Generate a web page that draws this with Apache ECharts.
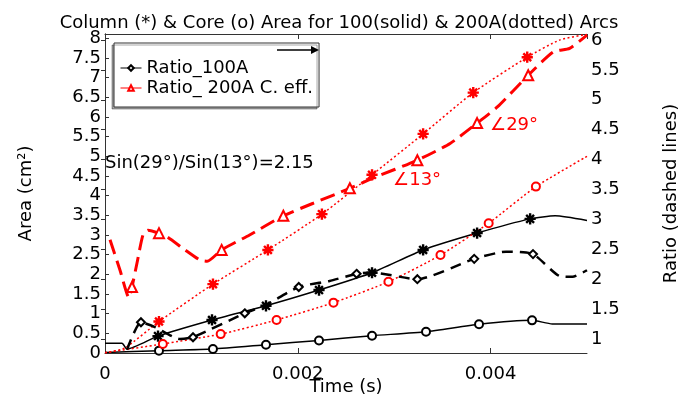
<!DOCTYPE html>
<html>
<head>
<meta charset="utf-8">
<script src="https://cdn.jsdelivr.net/npm/echarts@6/dist/echarts.min.js"></script>
<style>
  html, body { margin: 0; padding: 0; background: #fff; }
  #main { width: 678px; height: 396px; }
</style>
</head>
<body>
<div id="main"></div>
<script>
// time in seconds, areas in cm^2 (left axis), ratios on right axis
var col100T = [0, 0.000176, 0.000228, 0.00055, 0.00111, 0.00167, 0.00222, 0.00277, 0.0033, 0.00386, 0.00441, 0.00467, 0.005];
var col100V = [0.25, 0.25, 0.10, 0.43, 0.84, 1.20, 1.60, 2.04, 2.62, 3.05, 3.41, 3.49, 3.37];
var col100Marks = [3, 4, 5, 6, 7, 8, 9, 10];

var core100T = [0, 0.00056, 0.00112, 0.00167, 0.00222, 0.00277, 0.00333, 0.00388, 0.00443, 0.00464, 0.005];
var core100V = [0.01, 0.06, 0.10, 0.21, 0.32, 0.44, 0.54, 0.73, 0.83, 0.74, 0.74];
var core100Marks = [1, 2, 3, 4, 5, 6, 7, 8];

var col200T = [0, 0.000207, 0.00056, 0.00112, 0.00169, 0.00225, 0.00277, 0.0033, 0.00382, 0.00438, 0.00472, 0.005];
var col200V = [0, 0.13, 0.80, 1.75, 2.62, 3.53, 4.53, 5.57, 6.62, 7.52, 7.96, 8.1];
var col200Marks = [2, 3, 4, 5, 6, 7, 8, 9];

var core200T = [0, 0.0006, 0.0012, 0.00178, 0.00237, 0.00294, 0.00348, 0.00398, 0.00447, 0.005];
var core200V = [0.01, 0.23, 0.48, 0.84, 1.28, 1.81, 2.49, 3.30, 4.23, 5.00];
var core200Marks = [1, 2, 3, 4, 5, 6, 7, 8];

var ratio100T = [0.000228, 0.000373, 0.000519, 0.000778, 0.000913, 0.00145, 0.00167, 0.00201, 0.00233, 0.00261, 0.00277, 0.00324, 0.00383, 0.00416, 0.00444, 0.00472, 0.00485, 0.005];
var ratio100V = [0.82, 1.28, 1.20, 1.00, 1.03, 1.43, 1.57, 1.87, 1.97, 2.09, 2.11, 2.00, 2.34, 2.46, 2.42, 2.05, 2.04, 2.15];
var ratio100Marks = [1, 4, 5, 7, 9, 11, 12, 14];

var ratio200T = [0.000052, 0.000156, 0.000249, 0.00028, 0.000332, 0.000394, 0.000446, 0.00056, 0.000643, 0.00083, 0.000985, 0.00106, 0.00121, 0.0015, 0.00185, 0.00216, 0.00254, 0.00278, 0.00324, 0.00358, 0.00386, 0.00407, 0.00439, 0.00465, 0.00482, 0.005];
var ratio200V = [2.66, 2.15, 1.69, 1.87, 2.27, 2.74, 2.82, 2.77, 2.71, 2.49, 2.32, 2.30, 2.49, 2.74, 3.06, 3.27, 3.52, 3.69, 3.99, 4.27, 4.61, 4.88, 5.41, 5.80, 5.86, 6.08];
var ratio200Marks = [3, 7, 12, 14, 16, 18, 20, 22];

var xTickLabels = { 0: '0', 0.002: '0.002', 0.004: '0.004' };

// annotation texts, anchored in [time, area] coordinates
var notes = [
  { text: 'Sin(29°)/Sin(13°)=2.15', at: [0, 4.83], color: '#000' },
  { text: '∠29°', at: [0.003994, 5.80], color: '#ff0000' },
  { text: '∠13°', at: [0.002988, 4.38], color: '#ff0000' }
];

var FONT = 'DejaVu Sans';
var STAR = 'path://M4.4 0L5.6 0L5.6 10L4.4 10Z M0 4.4L10 4.4L10 5.6L0 5.6Z M1.92 1.08L8.92 8.08L8.08 8.92L1.08 1.92Z M8.08 1.08L8.92 1.92L1.92 8.92L1.08 8.08Z';

function buildData(t, v, marks) {
  return t.map(function (x, i) {
    if (marks.indexOf(i) >= 0) return [x, v[i]];
    return { value: [x, v[i]], symbol: 'none' };
  });
}

function lineSeries(name, t, v, marks, yIdx, color, width, type, symbol, size) {
  return {
    name: name,
    type: 'line',
    yAxisIndex: yIdx,
    data: buildData(t, v, marks),
    symbol: symbol,
    symbolSize: size,
    smooth: 0.2,
    lineStyle: { color: color, width: width, type: type },
    itemStyle: { color: color, borderColor: color, borderWidth: 1.2 },
    emphasis: { disabled: true }
  };
}

var chart = echarts.init(document.getElementById('main'));

var axisText = { color: '#000', fontSize: 18, fontFamily: FONT };
var axisLine = { show: true, lineStyle: { color: '#333', width: 1 } };

var option = {
  animation: false,
  backgroundColor: '#fff',
  title: {
    text: 'Column (*) & Core (o) Area for 100(solid) & 200A(dotted) Arcs',
    left: 'center',
    top: 9,
    textStyle: { color: '#000', fontSize: 18, fontWeight: 'normal', fontFamily: FONT }
  },
  legend: {
    data: ['Ratio_100A', 'Ratio_ 200A C. eff.'],
    orient: 'vertical',
    left: 114,
    top: 43,
    padding: [15, 6, 9, 6],
    itemGap: 0,
    itemWidth: 21,
    itemHeight: 7,
    backgroundColor: '#fff',
    borderColor: '#333',
    borderWidth: 1,
    shadowColor: 'rgba(0,0,0,0.35)',
    shadowOffsetX: -2,
    shadowOffsetY: 2,
    lineStyle: { type: 'solid', width: 1 },
    itemStyle: { borderWidth: 1 },
    textStyle: { color: '#000', fontSize: 18, fontFamily: FONT, lineHeight: 20 }
  },
  grid: { left: 105, right: 91, top: 34, bottom: 43, outerBoundsMode: 'none' },
  xAxis: [
    {
      type: 'value', min: 0, max: 0.005, interval: 0.002,
      name: 'Time (s)', nameLocation: 'middle', nameGap: 25, nameMoveOverlap: false,
      nameTextStyle: axisText,
      axisLine: axisLine,
      axisTick: { inside: true, length: 5, lineStyle: { color: '#333' } },
      axisLabel: {
        color: '#000', fontSize: 18, fontFamily: FONT, margin: 12, showMaxLabel: false,
        formatter: function (v) { return xTickLabels[v] !== undefined ? xTickLabels[v] : ''; }
      },
      splitLine: { show: false }
    },
    {
      type: 'value', position: 'top', min: 0, max: 0.005, interval: 0.002,
      axisLine: axisLine,
      axisTick: { inside: true, length: 5, lineStyle: { color: '#333' } },
      axisLabel: { show: false },
      splitLine: { show: false }
    }
  ],
  yAxis: [
    {
      type: 'value', min: 0, max: 8.11, interval: 0.5,
      name: 'Area (cm²)', nameLocation: 'middle', nameGap: 70, nameRotate: 90, nameMoveOverlap: false,
      nameTextStyle: axisText,
      axisLine: axisLine,
      axisTick: { inside: true, length: 4, lineStyle: { color: '#333' } },
      axisLabel: { color: '#000', fontSize: 18, fontFamily: FONT, margin: 4, showMaxLabel: false },
      splitLine: { show: false }
    },
    {
      type: 'value', min: 0.766, max: 6.1, splitNumber: 10,
      position: 'right',
      name: 'Ratio (dashed lines)', nameLocation: 'middle', nameGap: 75, nameRotate: 90, nameMoveOverlap: false,
      nameTextStyle: axisText,
      axisLine: axisLine,
      axisTick: { inside: true, length: 4, lineStyle: { color: '#333' } },
      axisLabel: { color: '#000', fontSize: 18, fontFamily: FONT, margin: 4, showMinLabel: false, showMaxLabel: false },
      splitLine: { show: false }
    }
  ],
  series: [
    lineSeries('Column 100A', col100T, col100V, col100Marks, 0, '#000', 1.5, 'solid', STAR, 10),
    lineSeries('Core 100A', core100T, core100V, core100Marks, 0, '#000', 1.5, 'solid', 'emptyCircle', 8),
    lineSeries('Column 200A', col200T, col200V, col200Marks, 0, '#ff0000', 1.5, [2, 2.5], STAR, 10),
    lineSeries('Core 200A', core200T, core200V, core200Marks, 0, '#ff0000', 1.5, [2, 2.5], 'emptyCircle', 8),
    lineSeries('Ratio_100A', ratio100T, ratio100V, ratio100Marks, 1, '#000', 2.5, [11, 7], 'emptyDiamond', 8),
    lineSeries('Ratio_ 200A C. eff.', ratio200T, ratio200V, ratio200Marks, 1, '#ff0000', 3, [15, 7], 'emptyTriangle', 10)
  ]
};

chart.setOption(option);

// notes and the small arrow in the legend box
var graphics = notes.map(function (n) {
  var p = chart.convertToPixel({ xAxisIndex: 0, yAxisIndex: 0 }, n.at);
  return {
    type: 'text', x: p[0], y: p[1], z: 100,
    style: { text: n.text, fill: n.color, fontSize: 18, fontFamily: FONT, align: 'left', verticalAlign: 'middle' }
  };
});
graphics.push({
  type: 'line', z: 100,
  shape: { x1: 277, y1: 50, x2: 312, y2: 50 },
  style: { stroke: '#000', lineWidth: 1.5 }
});
graphics.push({
  type: 'polygon', z: 100,
  shape: { points: [[311, 46], [319, 50], [311, 54]] },
  style: { fill: '#000' }
});
chart.setOption({ graphic: graphics });
</script>
</body>
</html>
